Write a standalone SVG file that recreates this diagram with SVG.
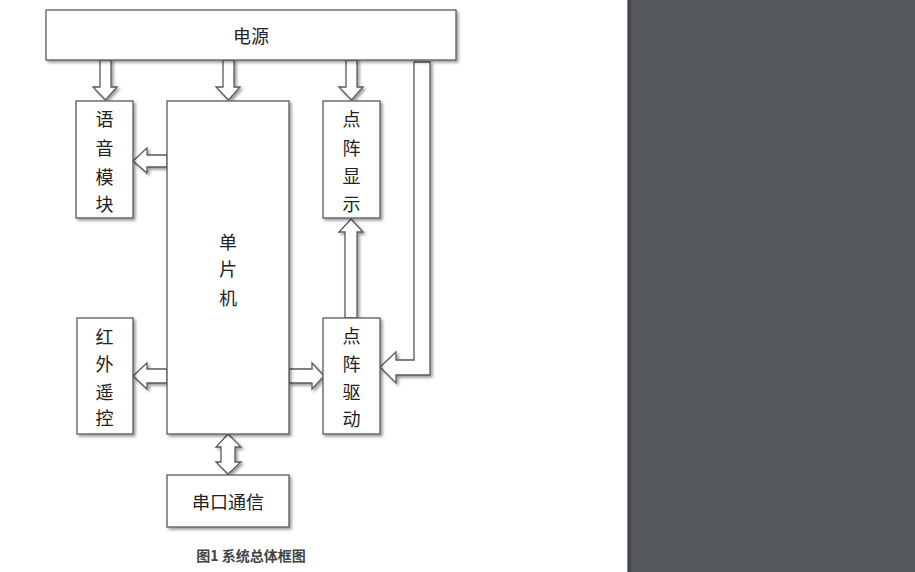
<svg xmlns="http://www.w3.org/2000/svg" width="915" height="572" viewBox="0 0 915 572">
<defs>
<filter id="sh" x="-20%" y="-20%" width="150%" height="150%">
<feGaussianBlur in="SourceAlpha" stdDeviation="1.5"/>
<feOffset dx="2" dy="2" result="b"/>
<feComponentTransfer><feFuncA type="linear" slope="0.4"/></feComponentTransfer>
<feMerge><feMergeNode/><feMergeNode in="SourceGraphic"/></feMerge>
</filter>
<linearGradient id="edge" x1="0" y1="0" x2="1" y2="0">
<stop offset="0" stop-color="#3a3c3f"/>
<stop offset="1" stop-color="#54575b"/>
</linearGradient>
<style>
.box{fill:#fff;stroke:#5a5a5a;stroke-width:1.3;filter:url(#sh)}
.arr{fill:#fff;stroke:#5a5a5a;stroke-width:1.3;stroke-linejoin:miter;filter:url(#sh)}
.t{font-family:"Noto Sans CJK SC","Noto Sans",sans-serif;font-size:18px;fill:#222;text-anchor:middle;dominant-baseline:central}
.cap{font-family:"Noto Sans CJK SC","Noto Sans",sans-serif;font-size:14px;font-weight:bold;fill:#444;text-anchor:middle;dominant-baseline:central}
</style>
</defs>
<rect x="0" y="0" width="915" height="572" fill="#fff"/>
<rect x="627" y="0" width="288" height="572" fill="#54575b"/>
<rect x="627" y="0" width="6" height="572" fill="url(#edge)"/>
<line x1="627.5" y1="0" x2="627.5" y2="572" stroke="#888" stroke-width="1"/>

<g id="connectors">
<polygon class="arr" points="100,60 111,60 111,87 117,87 105.5,100 93,87 100,87"/>
<polygon class="arr" points="223,60 234,60 234,87 240,87 228.5,100 216,87 223,87"/>
<polygon class="arr" points="346,60 357,60 357,87 363,87 351.5,100 339,87 346,87"/>
<polygon class="arr" points="167,155 147,155 147,148 133,161 147,173 147,167 167,167"/>
<polygon class="arr" points="167,369 147,369 147,363 133,376 147,389 147,383 167,383"/>
<polygon class="arr" points="289,369 312,369 312,363 324,376 312,389 312,383 289,383"/>
<polygon class="arr" points="345,318 345,232 339,232 351,219 363,232 357,232 357,318"/>
<polygon class="arr" points="414,62 430,62 430,375 396,375 396,383 380,367 396,352 396,360 414,360"/>
<polygon class="arr" points="228,434 241,447 235,447 235,462 241,462 228,474 216,462 221,462 221,447 216,447"/>
</g>

<g id="power"><rect class="box" x="46" y="10" width="410" height="50"/><text class="t" x="251" y="35">电源</text></g>
<g id="voice"><rect class="box" x="76" y="101" width="57" height="117"/>
<text class="t" x="104.5" y="118">语</text><text class="t" x="104.5" y="147">音</text><text class="t" x="104.5" y="176">模</text><text class="t" x="104.5" y="203">块</text></g>
<g id="mcu"><rect class="box" x="167" y="101" width="122" height="333"/>
<text class="t" x="228" y="241">单</text><text class="t" x="228" y="268">片</text><text class="t" x="228" y="297">机</text></g>
<g id="display"><rect class="box" x="323" y="101" width="57" height="117"/>
<text class="t" x="351.5" y="118">点</text><text class="t" x="351.5" y="147">阵</text><text class="t" x="351.5" y="175">显</text><text class="t" x="351.5" y="203">示</text></g>
<g id="driver"><rect class="box" x="323" y="318" width="57" height="116"/>
<text class="t" x="351.5" y="335">点</text><text class="t" x="351.5" y="363">阵</text><text class="t" x="351.5" y="391">驱</text><text class="t" x="351.5" y="418">动</text></g>
<g id="ir"><rect class="box" x="77" y="318" width="56" height="116"/>
<text class="t" x="104.5" y="336">红</text><text class="t" x="104.5" y="363">外</text><text class="t" x="104.5" y="391">遥</text><text class="t" x="104.5" y="417">控</text></g>
<g id="serial"><rect class="box" x="167" y="475" width="122" height="52"/><text class="t" x="228" y="501">串口通信</text></g>
<text class="cap" x="251" y="555">图1 系统总体框图</text>
</svg>
